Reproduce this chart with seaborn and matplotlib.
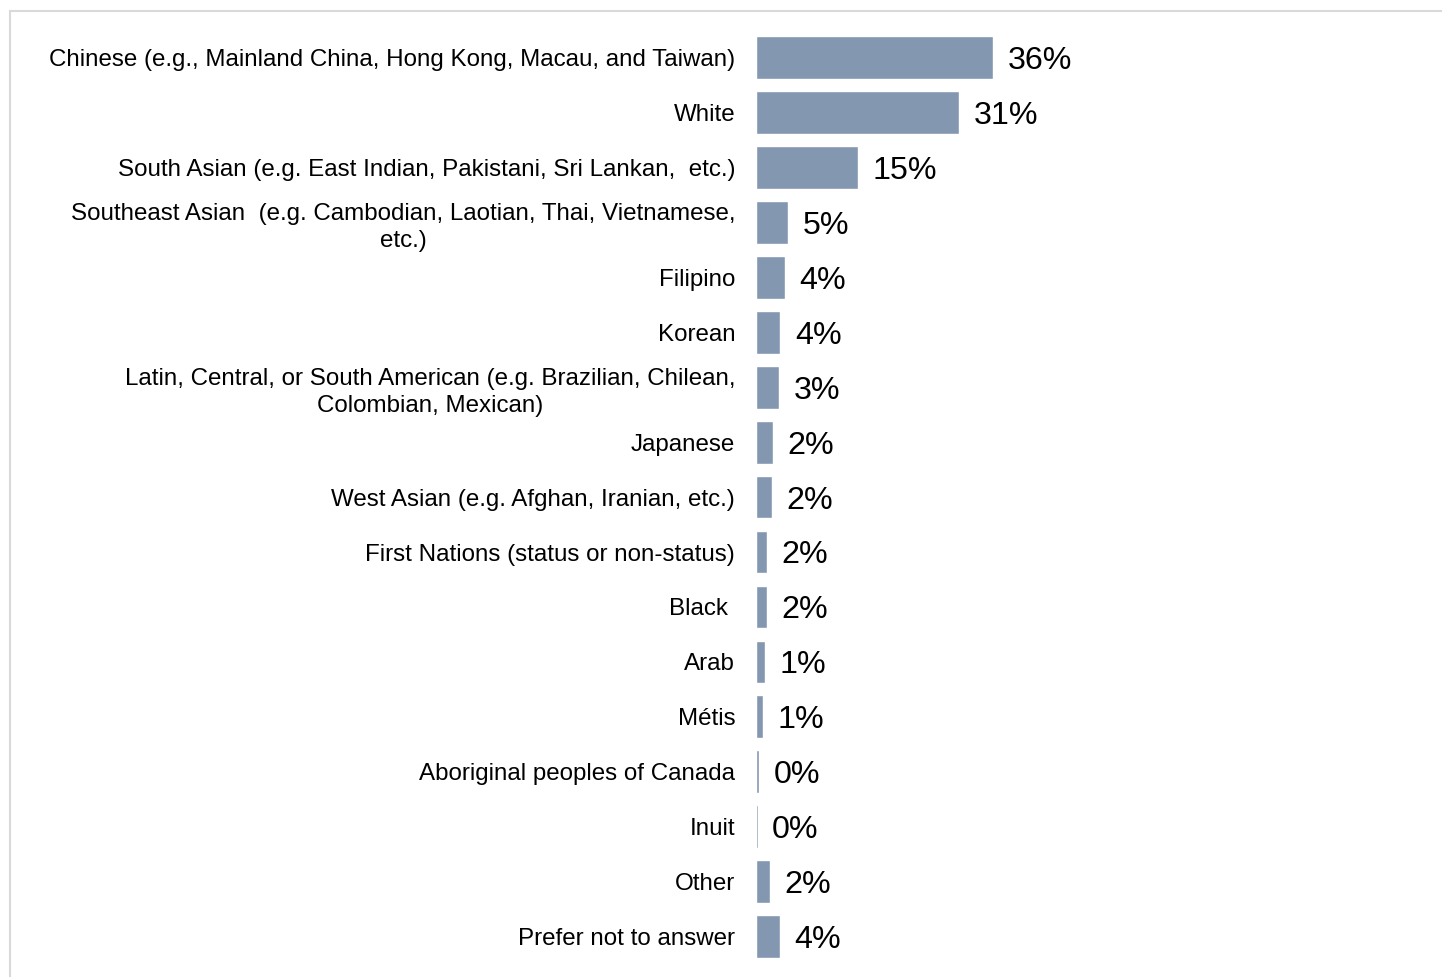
import matplotlib
matplotlib.use("Agg")
import matplotlib.pyplot as plt
from matplotlib.lines import Line2D
import seaborn as sns
import pandas as pd

categories = [
    "Chinese (e.g., Mainland China, Hong Kong, Macau, and Taiwan)",
    "White",
    "South Asian (e.g. East Indian, Pakistani, Sri Lankan,  etc.)",
    "Southeast Asian  (e.g. Cambodian, Laotian, Thai, Vietnamese,\netc.)",
    "Filipino",
    "Korean",
    "Latin, Central, or South American (e.g. Brazilian, Chilean,\nColombian, Mexican)",
    "Japanese",
    "West Asian (e.g. Afghan, Iranian, etc.)",
    "First Nations (status or non-status)",
    "Black ",
    "Arab",
    "Métis",
    "Aboriginal peoples of Canada",
    "Inuit",
    "Other",
    "Prefer not to answer",
]
values = [35.95, 30.76, 15.45, 4.85, 4.35, 3.68, 3.44, 2.58, 2.38, 1.67, 1.67,
          1.36, 1.10, 0.48, 0.23, 2.12, 3.64]
value_labels = ["36%", "31%", "15%", "5%", "4%", "4%", "3%", "2%", "2%", "2%",
                "2%", "1%", "1%", "0%", "0%", "2%", "4%"]

df = pd.DataFrame({"category": categories, "value": values})

sns.set_theme(style="white")
plt.rcParams["font.family"] = ["Liberation Sans", "DejaVu Sans"]

W, H = 1442, 977
fig = plt.figure(figsize=(W / 100, H / 100), dpi=100)
fig.patch.set_facecolor("white")

ax_left = 756 / W
ax_width = 660 / W
ax_top = 29.8
ax_bottom = 964.3
ax = fig.add_axes([ax_left, 1 - ax_bottom / H, ax_width, (ax_bottom - ax_top) / H])

sns.barplot(data=df, y="category", x="value", orient="h", color="#8497B0",
            saturation=1, width=0.78, ax=ax)

ax.set_xlim(0, 100)
for s in ax.spines.values():
    s.set_visible(False)
ax.set_xlabel("")
ax.set_ylabel("")
ax.set_xticks([])
ax.tick_params(axis="y", length=0, pad=15, labelsize=17.4, labelcolor="black")
for t in ax.get_yticklabels():
    t.set_multialignment("center")
    t.set_linespacing(1.32)

for i, (v, lab) in enumerate(zip(values, value_labels)):
    ax.annotate(lab, xy=(v, i), xytext=(10.5, -2.5), textcoords="offset points",
                ha="left", va="center", fontsize=23.2, color="black")

# light gray frame (top and left edges visible)
fig.add_artist(Line2D([9.5 / W, 9.5 / W], [1 - 10.5 / H, 0], transform=fig.transFigure,
                      color="#D9D9D9", linewidth=1.5))
fig.add_artist(Line2D([9.5 / W, 1.0], [1 - 10.5 / H, 1 - 10.5 / H], transform=fig.transFigure,
                      color="#D9D9D9", linewidth=1.5))

fig.savefig("out.png", dpi=100, facecolor="white")
